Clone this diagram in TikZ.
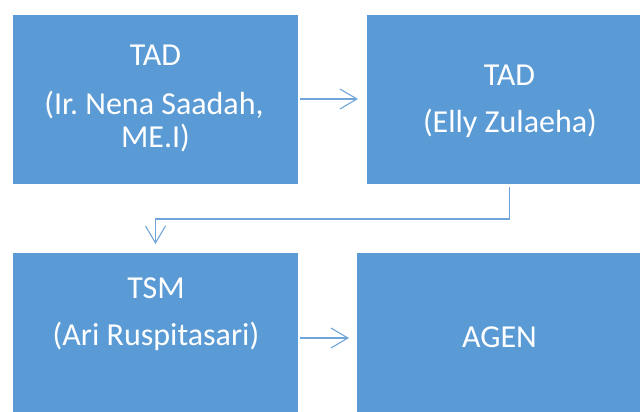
\documentclass[tikz,border=0pt]{standalone}
\usepackage{fontspec}
\setmainfont{Carlito}
\usetikzlibrary{arrows.meta}
\definecolor{boxblue}{HTML}{5B9BD5}
\definecolor{lineblue}{HTML}{6FA5DA}
\frenchspacing
\begin{document}
\begin{tikzpicture}[x=1pt,y=-1pt,
  box/.style={fill=boxblue, draw=none, minimum width=285pt, minimum height=169pt, inner sep=0pt, outer sep=0pt, anchor=north west},
  txt/.style={text=white, font=\fontsize{32}{35}\selectfont, inner sep=0pt, anchor=base},
  arr/.style={draw=lineblue, line width=1.1pt, -{Straight Barb[length=17pt,width=20pt]}}]
\useasboundingbox (0,0) rectangle (640,412);
\clip (0,0) rectangle (640,412);
\node[box] (b1) at (13,15) {};
\node[box] (b2) at (367,15) {};
\node[box] (b3) at (13,253) {};
\node[box] (b4) at (357,253) {};
% texts
\node[txt] (t1a) at (155.5,66) {TAD};
\node[txt] (t1b) at (154,114) {(Ir. Nena Saadah,};
\node[txt] (t1c) at (155.5,147) {ME.I)};
\node[txt] (t2a) at (509.5,85) {TAD};
\node[txt] (t2b) at (510,132) {(Elly Zulaeha)};
\node[txt] (t3a) at (156,298) {TSM};
\node[txt] (t3b) at (156,345) {(Ari Ruspitasari)};
\node[txt] (t4a) at (499.5,347) {AGEN};
% connectors
\draw[arr, shorten <=2pt, shorten >=9pt] (b1.east |- 0,99) -- (b2.west |- 0,99);
\draw[arr, shorten <=3pt, shorten >=9pt] (b2.south) -- ++(0,35) -| (b3.north);
\draw[arr, shorten <=2pt, shorten >=8pt] (b3.east |- 0,338) -- (b4.west |- 0,338);
\end{tikzpicture}
\end{document}
